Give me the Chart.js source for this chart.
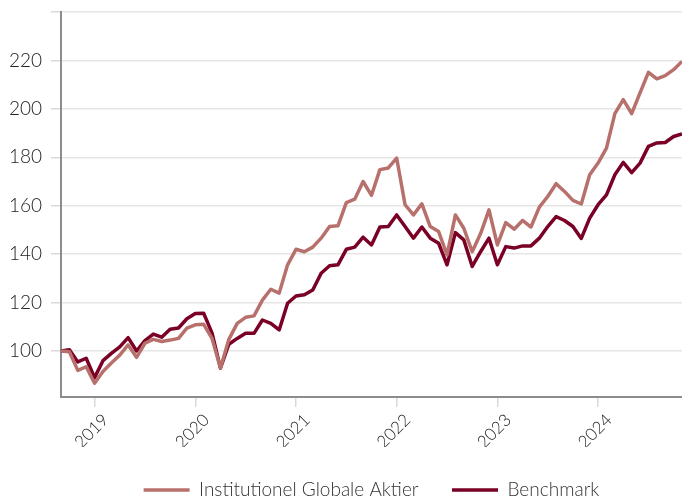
<!DOCTYPE html>
<html>
<head>
<meta charset="utf-8">
<script src="https://cdn.jsdelivr.net/npm/chart.js@4.4.0/dist/chart.umd.min.js"></script>
<style>
  html, body { margin: 0; padding: 0; background: #fff; }
  #wrap { width: 682px; height: 500px; position: relative; }
</style>
</head>
<body>
<div id="wrap"><canvas id="chart-performance"></canvas></div>
<script>
  // month-end points, Aug 2018 .. Oct 2024
  const START_YEAR = 2018;
  const START_MONTH = 8;
  const fundValues = [
    100, 99.7, 92, 93.5, 86.7, 91.5, 95, 98.3, 102.5, 97.4,
    103.2, 104.8, 103.9, 104.5, 105.2, 109.4, 110.8, 111, 105.2, 93,
    104.8, 111.4, 113.9, 114.5, 121, 125.5, 123.9, 135.6, 142, 141,
    142.9, 146.6, 151.4, 151.7, 161.3, 162.7, 170, 164.3, 174.9, 175.6,
    179.7, 160.4, 156.2, 160.8, 151.4, 149.3, 139.7, 156.2, 150.7, 141,
    148.5, 158.3, 143.8, 153, 150.3, 153.9, 151.2, 159.4, 163.8, 169.1,
    165.9, 162.2, 160.7, 172.8, 177.6, 183.8, 198, 203.8, 198, 206.6,
    215.1, 212.4, 213.7, 216.2, 219.6
  ];
  const benchmarkValues = [
    100, 100.5, 95.5, 97, 89, 96, 99, 101.7, 105.5, 100,
    104.3, 107, 105.7, 109, 109.5, 113.3, 115.5, 115.6, 107.4, 92.9,
    102.8, 105.2, 107.3, 107.3, 112.8, 111.4, 108.7, 119.7, 122.7, 123.2,
    125.2, 132.1, 135.2, 135.6, 142, 142.9, 147, 143.8, 151.2, 151.4,
    156.2, 151.4, 146.6, 151.2, 146.6, 144.5, 135.6, 148.9, 145.9, 134.9,
    141, 146.6, 135.6, 143.1, 142.5, 143.4, 143.4, 146.6, 151.4, 155.5,
    153.9, 151.4, 146.5, 154.9, 160.4, 164.5, 172.8, 177.9, 173.7, 177.6,
    184.5, 185.9, 186.1, 188.6, 189.7
  ];
  const yTicks = [100, 120, 140, 160, 180, 200, 220, 240];
  const seriesNames = ['Institutionel Globale Aktier', 'Benchmark'];

  const labels = fundValues.map((_, i) => {
    const m = START_MONTH - 1 + i;
    const y = START_YEAR + Math.floor(m / 12);
    return y + '-' + String((m % 12) + 1).padStart(2, '0');
  });

  const FUND_COLOR = 'rgb(183, 112, 107)';
  const BENCH_COLOR = 'rgb(122, 0, 38)';
  const TEXT = '#222';
  const FONT = "'Lato', 'Open Sans', sans-serif";

  Chart.defaults.font.family = FONT;
  Chart.defaults.font.weight = 300;
  Chart.defaults.color = TEXT;

  new Chart(document.getElementById('chart-performance'), {
    type: 'line',
    data: {
      labels: labels,
      datasets: [
        {
          label: seriesNames[0],
          data: fundValues,
          borderColor: FUND_COLOR,
          backgroundColor: FUND_COLOR,
          borderWidth: 3.5,
          pointRadius: 0,
          borderJoinStyle: 'round',
          tension: 0
        },
        {
          label: seriesNames[1],
          data: benchmarkValues,
          borderColor: BENCH_COLOR,
          backgroundColor: BENCH_COLOR,
          borderWidth: 3.5,
          pointRadius: 0,
          borderJoinStyle: 'round',
          tension: 0
        }
      ]
    },
    options: {
      responsive: true,
      maintainAspectRatio: false,
      animation: false,
      layout: { padding: { top: 12, right: 0, left: 0, bottom: -9.5 } },
      plugins: {
        tooltip: { enabled: false },
        legend: {
          position: 'bottom',
          fullSize: false,
          labels: {
            usePointStyle: true,
            pointStyle: 'line',
            pointStyleWidth: 46,
            padding: 33.5,
            color: '#333',
            font: { size: 19, weight: 300 }
          }
        }
      },
      scales: {
        x: {
          offset: false,
          afterBuildTicks: (scale) => {
            scale.ticks = scale.ticks.filter(t => labels[t.value].endsWith('-12'));
          },
          afterFit: (scale) => { scale.height = 50; },
          ticks: {
            autoSkip: false,
            maxRotation: 45,
            minRotation: 45,
            padding: 3,
            labelOffset: 11,
            color: TEXT,
            font: { size: 17, weight: 300 },
            callback: function (v) {
              return String(parseInt(labels[v].slice(0, 4)) + 1);
            }
          },
          grid: { drawOnChartArea: false, drawTicks: true, tickLength: 10, color: '#d9d9d9', lineWidth: 1.5 },
          border: { display: true, color: '#8c8c8c', width: 2 }
        },
        y: {
          min: 81,
          max: 240,
          afterBuildTicks: (scale) => {
            scale.ticks = yTicks.map(v => ({ value: v }));
          },
          afterFit: (scale) => { scale.width = 61; },
          ticks: {
            padding: 9,
            color: TEXT,
            font: (ctx) => (ctx.tick && ctx.tick.value === 240
              ? { size: 1, weight: 300 }
              : { size: 19, weight: 300 }),
            callback: (v) => (v === 240 ? '' : v)
          },
          grid: { color: '#e6e6e6', lineWidth: 1.5, tickLength: 10, tickColor: '#d9d9d9' },
          border: { display: true, color: '#8c8c8c', width: 2 }
        }
      }
    }
  });
</script>
</body>
</html>
